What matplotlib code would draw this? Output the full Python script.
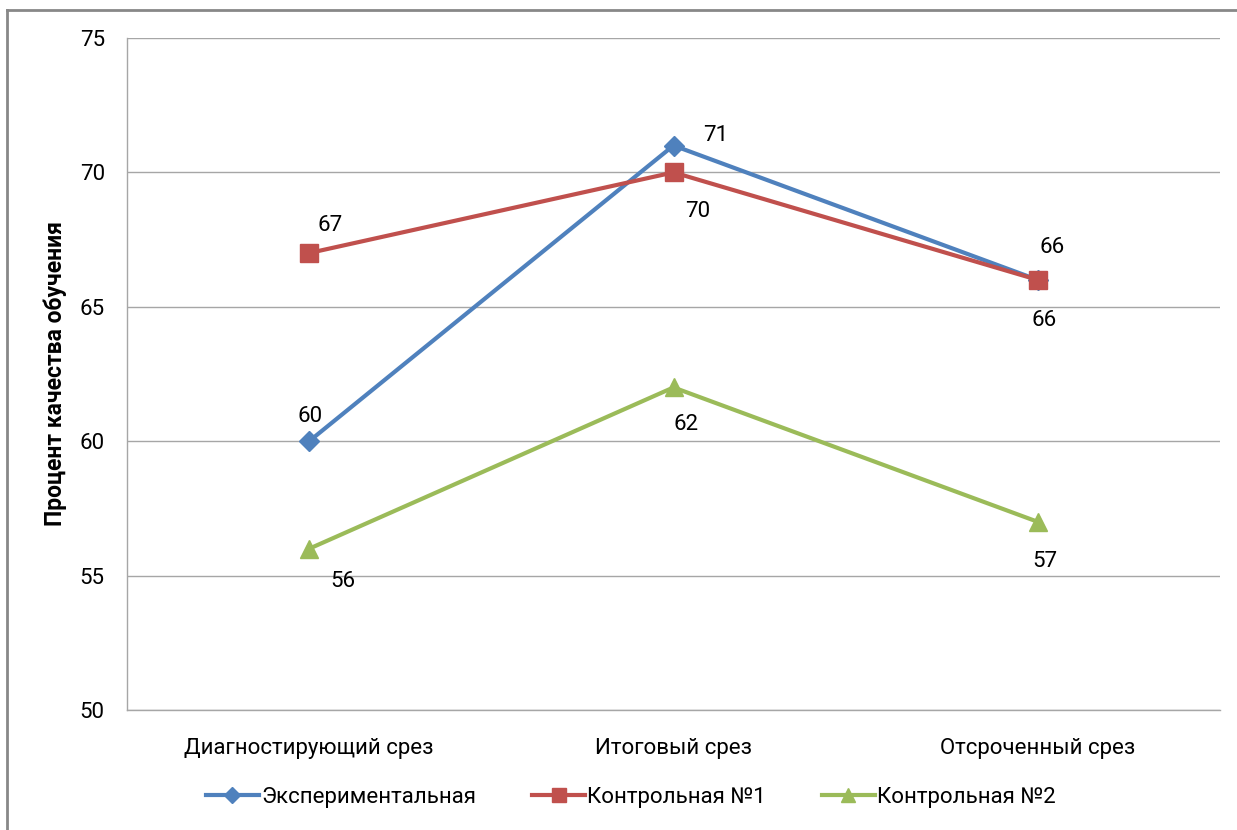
import matplotlib
matplotlib.use("Agg")
import matplotlib.pyplot as plt
from matplotlib.lines import Line2D
from matplotlib import font_manager

# Data
categories = ["Диагностирующий срез", "Итоговый срез", "Отсроченный срез"]
series_names = ["Экспериментальная", "Контрольная №1", "Контрольная №2"]
experimental = [60, 71, 66]
control1 = [67, 70, 66]
control2 = [56, 62, 57]
y_ticks = [50, 55, 60, 65, 70, 75]

installed = {f.name for f in font_manager.fontManager.ttflist}
family = [f for f in ["Liberation Sans Narrow", "Roboto", "DejaVu Sans"] if f in installed]
plt.rcParams["font.family"] = family
FS = 16

colors = ["#4F81BD", "#C0504D", "#9BBB59"]
markers = ["D", "s", "^"]
msizes = [10.5, 12.5, 12.5]
values = [experimental, control1, control2]

# label offsets in pixels for each data label
offsets = [
    [(1, 25), (42, 10), (14, 32)],
    [(21, 28), (24, -39), (6, -41)],
    [(34, -33), (13, -37), (7, -40)],
]

fig = plt.figure(figsize=(12.37, 8.30), dpi=100)
ax = fig.add_axes([127 / 1237, 1 - 710 / 830, (1220 - 127) / 1237, (710 - 38) / 830])

x = list(range(len(categories)))
for vals, c, m, ms, offs in zip(values, colors, markers, msizes, offsets):
    ax.plot(x, vals, color=c, lw=3, marker=m, markersize=ms, zorder=3)
    for xi, v, (dx, dy) in zip(x, vals, offs):
        ax.annotate(str(v), (xi, v), xytext=(dx, dy), textcoords="offset pixels",
                    ha="center", va="center", fontsize=FS, color="#000000")

ax.set_xlim(-0.5, 2.5)
ax.set_ylim(50, 75)
ax.set_yticks(y_ticks)
ax.set_xticks(x)
ax.set_xticklabels(categories, fontsize=FS)
ax.tick_params(axis="both", length=0, labelsize=FS, colors="#000000")
ax.tick_params(axis="y", pad=16)
ax.tick_params(axis="x", pad=20)
ax.grid(axis="y", color="#A6A6A6", lw=1)
ax.set_axisbelow(True)
for s in ["top", "right"]:
    ax.spines[s].set_visible(False)
for s in ["left", "bottom"]:
    ax.spines[s].set_color("#A6A6A6")
    ax.spines[s].set_linewidth(1)

ax.set_ylabel("Процент качества обучения", fontsize=FS + 0.5, fontweight="bold", labelpad=9)

handles = [Line2D([0], [0], color=c, lw=3, marker=m, markersize=ms * 0.8)
           for c, m, ms in zip(colors, markers, msizes)]
fig.legend(handles, series_names, loc="center", bbox_to_anchor=(0.51, 1 - 797 / 830),
           ncol=3, frameon=False, fontsize=FS, handlelength=2.4, handletextpad=0.1,
           columnspacing=2.5)

# outer frame (top and left edges)
fig.add_artist(Line2D([7 / 1237, 7 / 1237], [0, 1 - 10 / 830], color="#888888", lw=2,
                      transform=fig.transFigure))
fig.add_artist(Line2D([7 / 1237, 1], [1 - 10 / 830, 1 - 10 / 830], color="#888888", lw=2,
                      transform=fig.transFigure))

fig.savefig("out.png", dpi=100)
